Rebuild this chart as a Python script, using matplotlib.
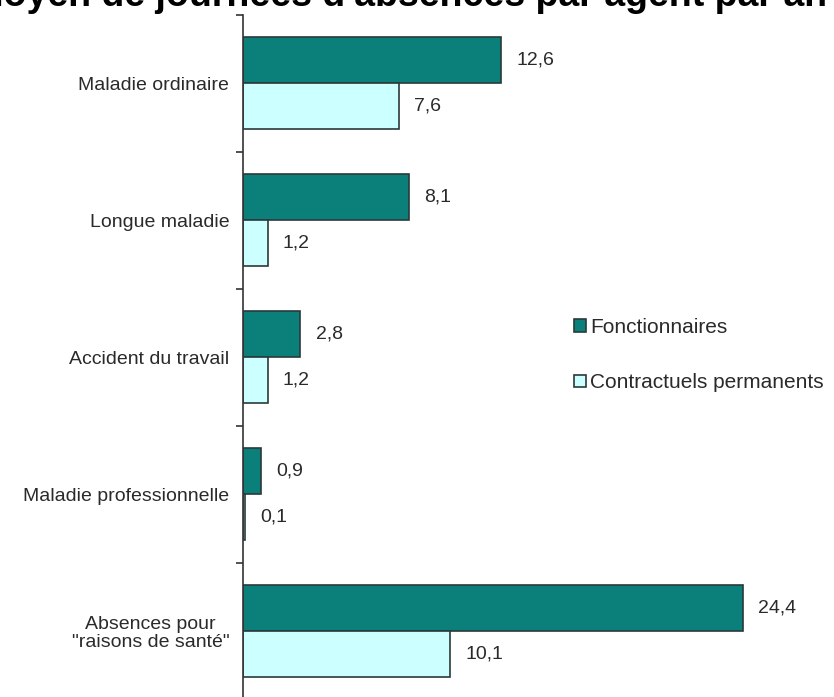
import numpy as np
import matplotlib
matplotlib.use("Agg")
import matplotlib.pyplot as plt

# data
categories = ["Maladie ordinaire", "Longue maladie", "Accident du travail",
              "Maladie professionnelle", "Absences pour\n\"raisons de santé\""]
fonctionnaires = [12.6, 8.1, 2.8, 0.9, 24.4]
contractuels = [7.6, 1.2, 1.2, 0.1, 10.1]
series_names = ["Fonctionnaires", "Contractuels permanents"]
title = "Nombre moyen de journées d'absences par agent par an"

plt.rcParams['font.family'] = ['Liberation Sans', 'DejaVu Sans']

fig = plt.figure(figsize=(8.34, 6.97), dpi=100)
ax = fig.add_axes([0.2914, -0.004, 0.688, 0.9828])

y = np.arange(len(categories))
h = 0.336
dark = "#0b7f79"
light = "#ccffff"
edge = "#2b3a3a"
txt = "#2a2a2a"

b1 = ax.barh(y - h / 2, fonctionnaires, height=h, color=dark, edgecolor=edge,
             linewidth=1.2, label=series_names[0])
b2 = ax.barh(y + h / 2, contractuels, height=h, color=light, edgecolor=edge,
             linewidth=1.2, label=series_names[1])

def fmt(v):
    return ("%.1f" % v).replace(".", ",")

for bars, vals in ((b1, fonctionnaires), (b2, contractuels)):
    for rect, v in zip(bars, vals):
        ax.annotate(fmt(v), (rect.get_width(), rect.get_y() + rect.get_height() / 2),
                    xytext=(11, 0), textcoords="offset points", va="center",
                    ha="left", fontsize=14, color=txt)

ax.set_xlim(0, 28)
ax.set_ylim(len(categories) - 0.5, -0.5)
ax.set_yticks(y)
ax.set_yticklabels(categories, fontsize=14, color=txt)
ax.tick_params(axis="y", which="major", length=0, pad=10)
ax.set_yticks(np.arange(len(categories) + 1) - 0.5, minor=True)
ax.tick_params(axis="y", which="minor", length=5, width=1.2, color="#333333")
for lab in ax.get_yticklabels():
    lab.set_multialignment("center")
    lab.set_linespacing(1.05)
ax.set_xticks([])
for s in ("top", "right", "bottom"):
    ax.spines[s].set_visible(False)
ax.spines["left"].set_color("#333333")
ax.spines["left"].set_linewidth(1.2)

ax.legend(loc="upper left", bbox_to_anchor=(0.545, 0.585), frameon=False,
          fontsize=15, handlelength=0.55, handleheight=0.55, handletextpad=0.2,
          labelspacing=1.75, labelcolor=txt)

fig.text(0.9916, 1 - 6 / 697, title, ha="right", va="baseline",
         fontsize=27, fontweight="bold")

fig.savefig("out.png", dpi=100)
